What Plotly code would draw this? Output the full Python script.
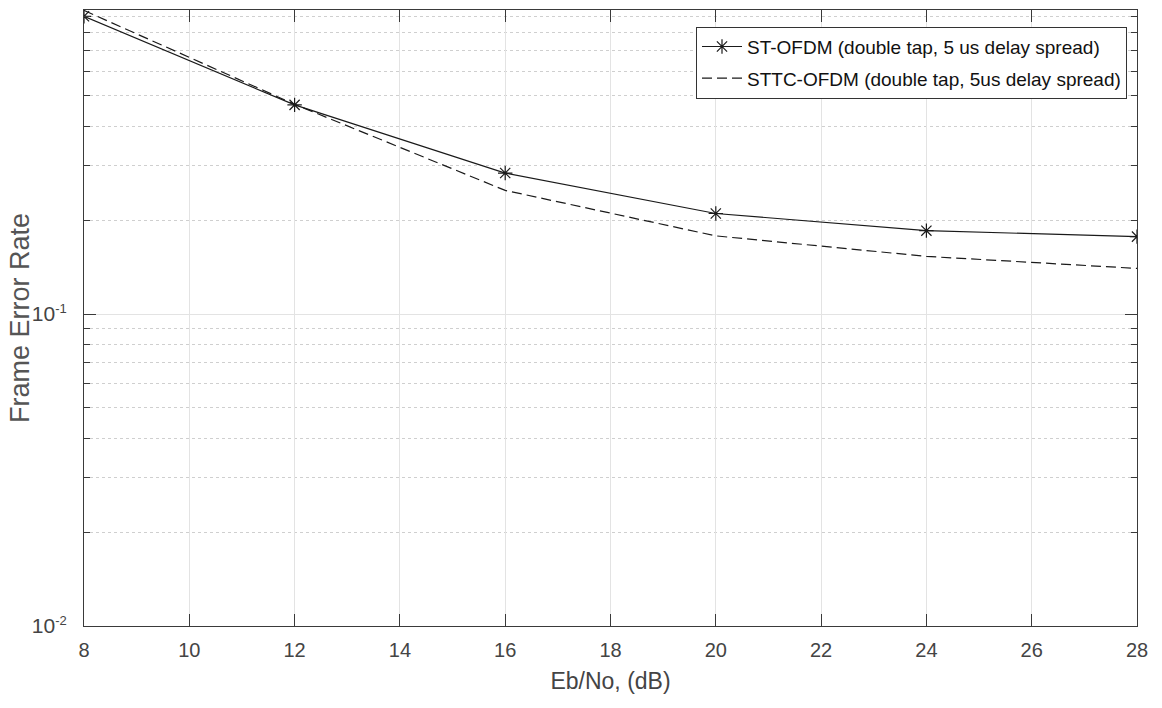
import plotly.graph_objects as go

# Eb/No sweep (dB)
ebno_db = [8, 12, 16, 20, 24, 28]

# Frame error rate per scheme
fer_st_ofdm = [0.90, 0.468, 0.283, 0.210, 0.185, 0.177]
fer_sttc_ofdm = [0.94, 0.47, 0.249, 0.178, 0.153, 0.140]

x_ticks = [8, 10, 12, 14, 16, 18, 20, 22, 24, 26, 28]
y_ticks = [0.01, 0.1]
y_tick_text = [
    "10<sup><span style='font-size:13px'>-2</span></sup>",
    "10<sup><span style='font-size:13px'>-1</span></sup>",
]
y_minor_ticks = [0.02, 0.03, 0.04, 0.05, 0.06, 0.07, 0.08, 0.09,
                 0.2, 0.3, 0.4, 0.5, 0.6, 0.7, 0.8, 0.9]

axis_color = "#3a3a3a"
text_color = "#444444"
font_family = "Liberation Sans, Arial, sans-serif"

fig = go.Figure()

fig.add_trace(go.Scatter(
    x=ebno_db, y=fer_st_ofdm,
    mode="lines+markers",
    name="ST-OFDM (double tap, 5 us delay spread)",
    legendgroup="a",
    line=dict(color="#1a1a1a", width=1.2),
    marker=dict(symbol="asterisk-open", size=12,
                line=dict(color="#1a1a1a", width=1.2)),
))

fig.add_trace(go.Scatter(
    x=ebno_db, y=fer_sttc_ofdm,
    mode="lines",
    name="STTC-OFDM (double tap, 5us delay spread)",
    legendgroup="b",
    line=dict(color="#1a1a1a", width=1.2, dash="10px,5px"),
))

fig.update_layout(
    width=1162, height=708,
    margin=dict(l=84, r=25, t=10, b=82),
    paper_bgcolor="white",
    plot_bgcolor="white",
    font=dict(family=font_family, color=text_color, size=20),
    showlegend=True,
    legend=dict(
        x=0.9905, y=0.973, xanchor="right", yanchor="top",
        bgcolor="white", bordercolor="#333333", borderwidth=1,
        font=dict(size=19, color="#111111"),
        tracegroupgap=4,
        itemwidth=40,
    ),
    annotations=[dict(
        text="Frame Error Rate",
        xref="paper", yref="paper", x=0, y=0.5,
        xanchor="center", yanchor="middle", xshift=-64,
        textangle=-90, showarrow=False,
        font=dict(size=27, color="#555555"),
    )],
)

fig.update_xaxes(
    range=[8, 28],
    tickvals=x_ticks,
    automargin=False,
    ticks="inside", ticklen=12, tickwidth=1, tickcolor=axis_color,
    ticklabelstandoff=6,
    showline=True, linecolor=axis_color, linewidth=1.2, mirror="ticks",
    showgrid=True, gridcolor="#e3e3e3", gridwidth=1,
    zeroline=False,
    tickfont=dict(size=20, color=text_color),
    title=dict(text="Eb/No, (dB)", font=dict(size=23, color=text_color), standoff=12),
)

fig.update_yaxes(
    type="log",
    range=[-2, -0.0256],
    tickmode="array",
    tickvals=y_ticks,
    ticktext=y_tick_text,
    automargin=False,
    ticks="inside", ticklen=12, tickwidth=1, tickcolor=axis_color,
    ticklabelstandoff=12,
    showline=True, linecolor=axis_color, linewidth=1.2, mirror="ticks",
    showgrid=True, gridcolor="#e3e3e3", gridwidth=1,
    zeroline=False,
    minor=dict(
        tickmode="array", tickvals=y_minor_ticks,
        ticks="inside", ticklen=6, tickcolor=axis_color,
        showgrid=True, gridcolor="#cfcfcf", griddash="dot", gridwidth=1,
    ),
    tickfont=dict(size=21, color=text_color),
)

fig.write_html("out.html")
